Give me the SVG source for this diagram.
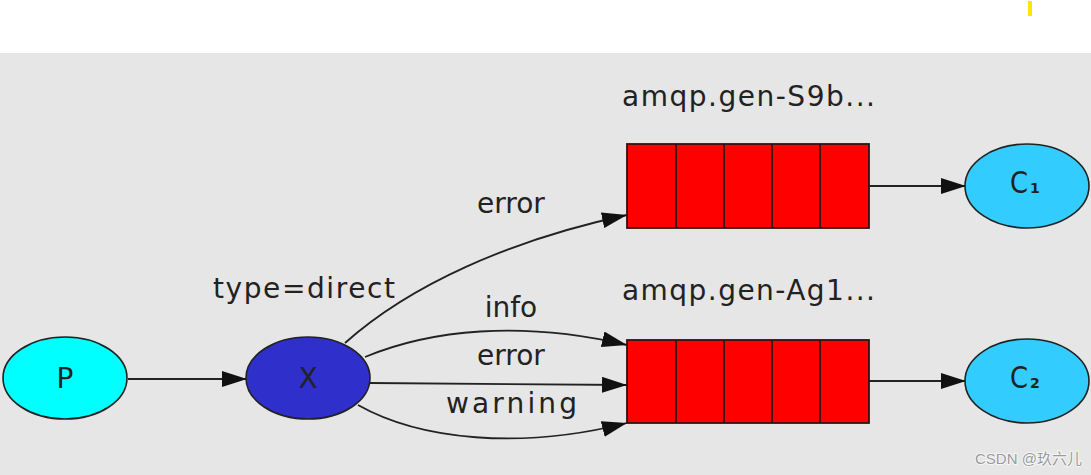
<svg xmlns="http://www.w3.org/2000/svg" width="1091" height="475" viewBox="0 0 1091 475">
<style>
.t{font-family:"DejaVu Sans",sans-serif;fill:#222}
.n{stroke:#222;stroke-width:1.6}
.q{fill:#ff0000;stroke:#331111;stroke-width:1.8}
.e{fill:none;stroke:#222;stroke-width:1.8}
</style>
<defs>
<marker id="ah" markerUnits="userSpaceOnUse" markerWidth="26" markerHeight="16" refX="25" refY="8" orient="auto">
<path d="M0,0 L25,8 L0,16 Z" fill="#111"/>
</marker>
</defs>
<rect x="0" y="0" width="1091" height="475" fill="#ffffff"/>
<rect x="0" y="53" width="1091" height="422" fill="#e6e6e6"/>
<rect x="1028" y="1" width="4" height="15" fill="#ffe600"/>
<g id="connectors">
<path class="e" d="M128,379 L247,379" marker-end="url(#ah)"/>
<path class="e" d="M345,343 C410,285 510,240 627,215" marker-end="url(#ah)"/>
<path class="e" d="M365,357 C430,330 520,320 627,345" marker-end="url(#ah)"/>
<path class="e" d="M370,383 L627,385" marker-end="url(#ah)"/>
<path class="e" d="M358,405 C420,440 520,450 627,423" marker-end="url(#ah)"/>
<path class="e" d="M869,186 L966,186" marker-end="url(#ah)"/>
<path class="e" d="M869,381 L966,381" marker-end="url(#ah)"/>
<text class="t" x="511" y="213" font-size="28" text-anchor="middle">error</text>
<text class="t" x="511" y="317" font-size="28" text-anchor="middle">info</text>
<text class="t" x="511" y="365" font-size="28" text-anchor="middle">error</text>
<text class="t" x="446" y="413" font-size="28" textLength="131" lengthAdjust="spacing">warning</text>
</g>
<g id="P">
<ellipse class="n" cx="65" cy="378" rx="62" ry="41" fill="#00ffff"/>
<text class="t" x="65" y="388" font-size="28" text-anchor="middle">P</text>
</g>
<g id="X">
<ellipse class="n" cx="308" cy="378" rx="62" ry="41" fill="#2f2fcc"/>
<text class="t" x="308" y="388" font-size="28" text-anchor="middle">X</text>
<text class="t" x="213" y="298" font-size="28" textLength="182" lengthAdjust="spacing">type=direct</text>
</g>
<g id="Q1">
<text class="t" x="622" y="106" font-size="28" textLength="253" lengthAdjust="spacing">amqp.gen-S9b...</text>
<rect class="q" x="627" y="144" width="242" height="84"/>
<path d="M676,144 V228 M724,144 V228 M772,144 V228 M820,144 V228" stroke="#331111" stroke-width="1.8"/>
</g>
<g id="Q2">
<text class="t" x="622" y="300" font-size="28" textLength="253" lengthAdjust="spacing">amqp.gen-Ag1...</text>
<rect class="q" x="627" y="340" width="242" height="83"/>
<path d="M676,340 V423 M724,340 V423 M772,340 V423 M820,340 V423" stroke="#331111" stroke-width="1.8"/>
</g>
<g id="C1">
<ellipse class="n" cx="1027" cy="186" rx="62" ry="42" fill="#33ccff"/>
<text class="t" x="1010" y="193" font-size="30" textLength="18" lengthAdjust="spacingAndGlyphs">C</text>
<text class="t" x="1030" y="193" font-size="14" font-weight="bold">1</text>
</g>
<g id="C2">
<ellipse class="n" cx="1027" cy="381" rx="62" ry="42" fill="#33ccff"/>
<text class="t" x="1010" y="388" font-size="30" textLength="18" lengthAdjust="spacingAndGlyphs">C</text>
<text class="t" x="1030" y="388" font-size="14" font-weight="bold">2</text>
</g>
<text x="975" y="464" font-family="'Liberation Sans','Noto Sans CJK SC',sans-serif" font-size="15" fill="#9a9a9a" stroke="#ffffff" stroke-width="2" paint-order="stroke" stroke-opacity="0.7">CSDN @玖六儿</text>
</svg>
